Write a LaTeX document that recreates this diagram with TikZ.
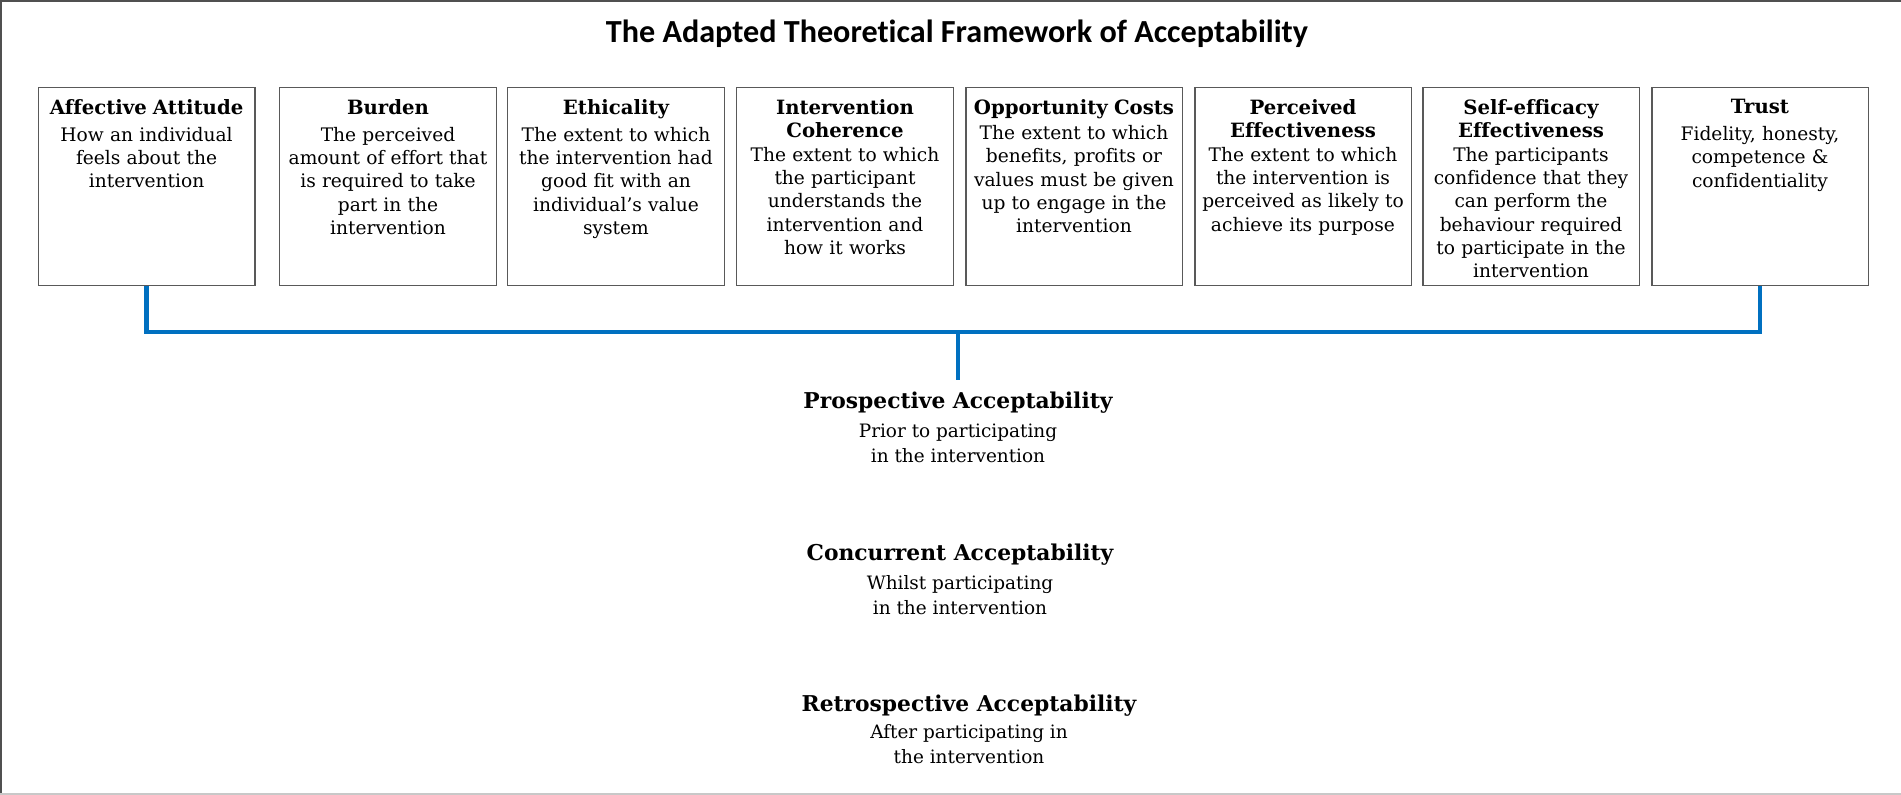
\documentclass[tikz,border=0pt]{standalone}
\usepackage{fontspec}
\setmainfont[Ligatures={TeX,NoCommon}]{DejaVu Serif}
\newfontfamily\titlefont[Ligatures=NoCommon]{Carlito}
\usetikzlibrary{positioning}

\definecolor{tfablue}{HTML}{0070C0}
\definecolor{boxgray}{HTML}{595959}
\definecolor{edgedark}{HTML}{505050}
\definecolor{edgelight}{HTML}{C8C8C8}

% headings inside the boxes and under the bus
\newcommand{\fhead}[1]{{\fontsize{11.2}{13.4}\selectfont\bfseries #1}}
\newcommand{\shead}[1]{{\fontsize{12.4}{16}\selectfont\bfseries #1}}

\tikzset{
  factor/.style={draw=boxgray, line width=0.85pt, minimum width=4.33cm, minimum height=3.96cm, anchor=north west, inner sep=0pt},
  factortext/.style={anchor=north, text width=4.3cm, align=center, inner sep=0pt, font=\fontsize{10.6}{13.3}\selectfont},
  stage/.style={anchor=north, align=center, inner sep=0pt, font=\fontsize{10.5}{14.2}\selectfont},
  bus/.style={tfablue, line width=2.8pt},
}

\begin{document}
\begin{tikzpicture}[x=0.2mm, y=-0.2mm]
  \useasboundingbox (0,0) rectangle (1901,795);
  % page frame
  \draw[edgedark, line width=1.2pt] (1,795) -- (1,1) -- (1901,1);
  \draw[edgelight, line width=1pt] (0,794) -- (1901,794);

  \node[font=\titlefont\fontsize{18.3}{22}\selectfont\bfseries] (title) at (957,34) {The Adapted Theoretical Framework of Acceptability};

  % the eight factor boxes
  \node[factor] (aa) at (37.6,87) {};
  \node[factor] (bu) at (279,87) {};
  \node[factor] (et) at (507,87) {};
  \node[factor] (ic) at (736,87) {};
  \node[factor] (oc) at (965,87) {};
  \node[factor] (pe) at (1194,87) {};
  \node[factor] (se) at (1422,87) {};
  \node[factor] (tr) at (1651,87) {};

  \node[factortext, below=0.24cm of aa.north] (aa-t) {\fhead{Affective Attitude}\\[2pt]How an individual\\feels about the\\intervention};
  \node[factortext, below=0.24cm of bu.north] (bu-t) {\fhead{Burden}\\[2pt]The perceived\\amount of effort that\\is required to take\\part in the\\intervention};
  \node[factortext, below=0.24cm of et.north] (et-t) {\fhead{Ethicality}\\[2pt]The extent to which\\the intervention had\\good fit with an\\individual’s value\\system};
  \node[factortext, below=0.24cm of ic.north] (ic-t) {\fhead{Intervention}\\\fhead{Coherence}\\The extent to which\\the participant\\understands the\\intervention and\\how it works};
  \node[factortext, below=0.24cm of oc.north] (oc-t) {\fhead{Opportunity Costs}\\[1pt]The extent to which\\benefits, profits or\\values must be given\\up to engage in the\\intervention};
  \node[factortext, below=0.24cm of pe.north] (pe-t) {\fhead{Perceived}\\\fhead{Effectiveness}\\The extent to which\\the intervention is\\perceived as likely to\\achieve its purpose};
  \node[factortext, below=0.24cm of se.north] (se-t) {\fhead{Self-efficacy}\\\fhead{Effectiveness}\\The participants\\confidence that they\\can perform the\\behaviour required\\to participate in the\\intervention};
  \node[factortext, below=0.24cm of tr.north] (tr-t) {\fhead{Trust}\\[2pt]Fidelity, honesty,\\competence \&\\confidentiality};

  % stages of acceptability
  \node[stage] (pro) at (958,392) {\shead{Prospective Acceptability}\\[2pt]Prior to participating\\in the intervention};
  \node[stage] (con) at (960,544) {\shead{Concurrent Acceptability}\\[2pt]Whilst participating\\in the intervention};
  \node[stage] (ret) at (969,695) {\shead{Retrospective Acceptability}\\[1pt]After participating in\\the intervention};

  % connector bus
  \coordinate (hub) at (958,332);
  \coordinate (hub-end) at (958,380);
  \draw[bus] (aa.south) |- (hub) -| (tr.south);
  \draw[bus] (hub) -- (hub-end);
\end{tikzpicture}
\end{document}
